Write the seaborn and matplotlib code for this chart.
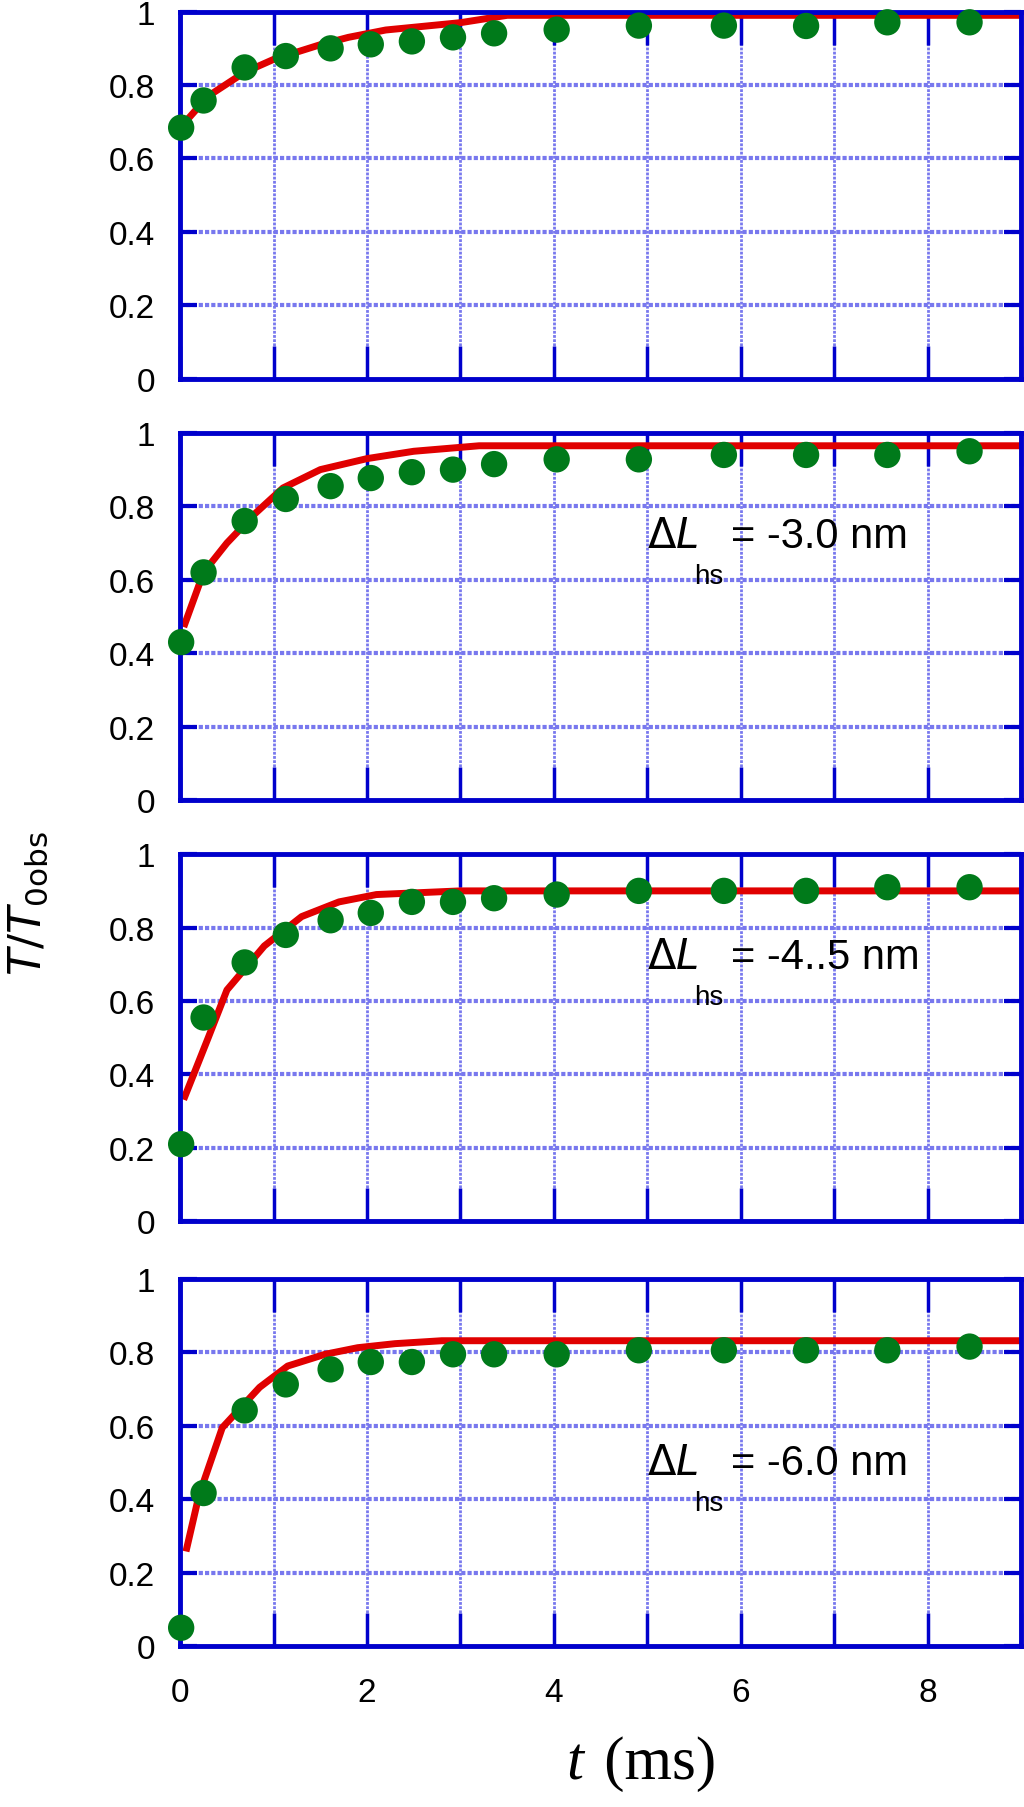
import numpy as np
import pandas as pd
import matplotlib
matplotlib.use("Agg")
import matplotlib.pyplot as plt
import seaborn as sns

t_data = [0.01, 0.25, 0.69, 1.13, 1.61, 2.04, 2.48, 2.92, 3.36, 4.03, 4.91, 5.82, 6.70, 7.57, 8.45]
y_data = [
    [0.684, 0.758, 0.848, 0.879, 0.900, 0.911, 0.919, 0.930, 0.941, 0.951, 0.962, 0.962, 0.961, 0.971, 0.971],
    [0.43, 0.62, 0.76, 0.82, 0.855, 0.877, 0.893, 0.90, 0.915, 0.928, 0.928, 0.94, 0.94, 0.94, 0.95],
    [0.21, 0.555, 0.705, 0.78, 0.82, 0.84, 0.87, 0.87, 0.88, 0.89, 0.90, 0.90, 0.90, 0.91, 0.91],
    [0.05, 0.417, 0.642, 0.713, 0.754, 0.774, 0.774, 0.795, 0.795, 0.795, 0.806, 0.806, 0.806, 0.806, 0.816],
]
t_fit = [
    [0.0, 0.3, 0.69, 1.0, 1.5, 1.8, 2.2, 3.0, 3.5, 9.0],
    [0.05, 0.25, 0.5, 0.8, 1.1, 1.5, 2.0, 2.5, 3.2, 9.0],
    [0.05, 0.3, 0.5, 0.9, 1.3, 1.7, 2.1, 3.0, 9.0],
    [0.07, 0.2, 0.45, 0.65, 0.85, 1.15, 1.55, 1.9, 2.3, 2.8, 9.0],
]
y_fit = [
    [0.684, 0.77, 0.835, 0.87, 0.91, 0.93, 0.95, 0.97, 0.99, 0.99],
    [0.48, 0.62, 0.70, 0.78, 0.85, 0.90, 0.93, 0.95, 0.965, 0.965],
    [0.34, 0.50, 0.63, 0.75, 0.83, 0.87, 0.89, 0.90, 0.90],
    [0.267, 0.41, 0.595, 0.65, 0.705, 0.763, 0.795, 0.813, 0.824, 0.832, 0.832],
]
labels = [None, "-3.0 nm", "-4..5 nm", "-6.0 nm"]
label_y = [None, 0.72, 0.72, 0.50]
y_ticks = [0, 0.2, 0.4, 0.6, 0.8, 1]
y_ticklabels = ["0", "0.2", "0.4", "0.6", "0.8", "1"]
x_ticks = [0, 2, 4, 6, 8]

narrow = ["Liberation Sans Narrow", "Liberation Sans", "DejaVu Sans"]
blue = "#0000cc"
grid_c = "#7878ee"

fig = plt.figure(figsize=(10.24, 18.08), dpi=100)
bottoms = [0.790, 0.557, 0.324, 0.089]
for i in range(4):
    ax = fig.add_axes([0.176, bottoms[i], 0.821, 0.203])
    for gx in range(1, 9):
        ax.axvline(gx, color=grid_c, lw=2.0, ls=(0, (1, 0.5)), zorder=0)
    for gy in [0.2, 0.4, 0.6, 0.8]:
        ax.axhline(gy, color=grid_c, lw=3.0, ls=(0, (1, 0.5)), zorder=0)
    sns.lineplot(x=t_fit[i], y=y_fit[i], ax=ax, color="#e00000", lw=5, zorder=2)
    sc = sns.scatterplot(x=t_data, y=y_data[i], ax=ax, color="#007a1a",
                         s=360, edgecolor="none", zorder=3, marker="o", clip_on=False)
    ax.set_xlim(0, 9)
    ax.set_ylim(0, 1)
    ax.set_xticks(range(0, 10))
    ax.set_yticks(y_ticks)
    ax.set_yticklabels(y_ticklabels, fontfamily=narrow, fontsize=24)
    if i == 3:
        ax.set_xticklabels([str(v) if v in x_ticks else "" for v in range(0, 10)],
                           fontfamily=narrow, fontsize=24)
    else:
        ax.set_xticklabels([])
    ax.tick_params(axis="x", direction="in", length=24, width=2.5, color=blue,
                   top=True, bottom=True, pad=22)
    ax.tick_params(axis="y", direction="in", length=12, width=3, color=blue,
                   left=True, right=True, pad=18)
    for s in ax.spines.values():
        s.set_color(blue)
        s.set_linewidth(3.5)
    ax.set_xlabel("")
    ax.set_ylabel("")
    if labels[i]:
        ax.text(5.0, label_y[i], r"$\Delta\mathit{L}$", fontsize=30, fontfamily="Liberation Sans",
                va="center", ha="left")
        ax.text(5.5, label_y[i] - 0.11, "hs", fontsize=20, fontfamily=narrow, va="center", ha="left")
        ax.text(5.9, label_y[i], "= " + labels[i], fontsize=30, fontfamily=narrow, va="center", ha="left")

fig.text(0.028, 0.5, r"$T/T_{\mathrm{0obs}}$", rotation=90, fontsize=32, va="center", ha="center",
         fontfamily="Liberation Sans")
fig.text(0.57, 0.016, "t", fontstyle="italic", fontsize=44, fontfamily="Liberation Serif",
         ha="right", va="baseline")
fig.text(0.575, 0.016, " (ms)", fontsize=44, fontfamily="Liberation Serif", ha="left", va="baseline")
fig.savefig("out.png", dpi=100)
